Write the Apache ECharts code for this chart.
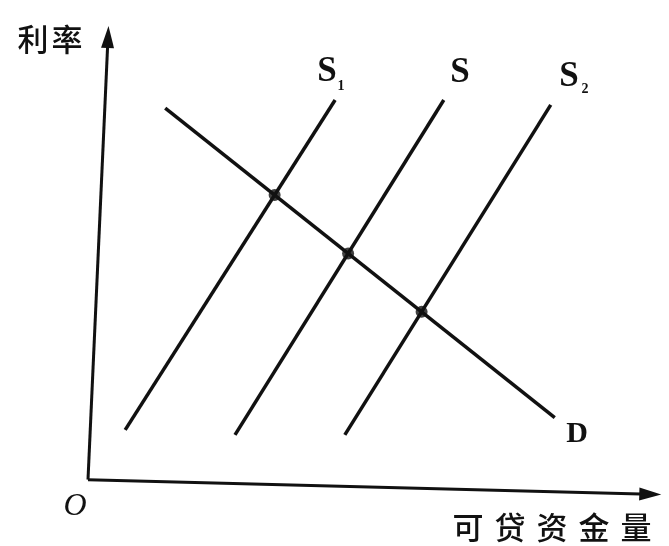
<!DOCTYPE html>
<html>
<head>
<meta charset="utf-8">
<script src="https://cdn.jsdelivr.net/npm/echarts@6/dist/echarts.min.js"></script>
<style>
html, body { margin: 0; padding: 0; background: #fff; }
#chart { width: 669px; height: 546px; }
</style>
</head>
<body>
<div id="chart"></div>
<script>
// 示意图, 单位任意 (原点 = 0,0)
const yAxisPts = [[0, 0], [3.5, 97.8]];
const xAxisPts = [[0, 0], [98.3, -3.2]];
const S1 = [[6.5, 11.0], [43.2, 83.9]];
const S = [[25.7, 9.9], [62.2, 83.9]];
const S2 = [[44.9, 9.9], [80.9, 82.8]];
const D = [[13.5, 82.1], [81.6, 13.7]];
const xName = ['可', '贷', '资', '金', '量'];

// 两条直线的交点
function cross(a, b) {
	const x1 = a[0][0], y1 = a[0][1], x2 = a[1][0], y2 = a[1][1];
	const x3 = b[0][0], y3 = b[0][1], x4 = b[1][0], y4 = b[1][1];
	const den = (x1 - x2) * (y3 - y4) - (y1 - y2) * (x3 - x4);
	const t = ((x1 - x3) * (y3 - y4) - (y1 - y3) * (x3 - x4)) / den;
	return [x1 + t * (x2 - x1), y1 + t * (y2 - y1)];
}
const dots = [cross(S1, D), cross(S, D), cross(S2, D)];

function seg(data, w) {
	return {
		type: 'line', data: data, symbol: 'none', silent: true,
		lineStyle: { color: '#111', width: w || 3.5 }
	};
}
function axisSeg(data, rot) {
	return {
		type: 'line', silent: true,
		data: [
			{ value: data[0], symbol: 'none' },
			{ value: data[1], symbol: 'triangle', symbolSize: [13, 22], symbolRotate: rot }
		],
		itemStyle: { color: '#111' },
		lineStyle: { color: '#111', width: 3 }
	};
}

const serif = '"Liberation Serif", "DejaVu Serif", serif';
const cjk = '"Noto Sans CJK SC", sans-serif';
function txt(s, x, y, font, align) {
	return {
		type: 'text', x: x, y: y, silent: true,
		style: { text: s, font: font, fill: '#111', align: align || 'center', verticalAlign: 'middle' }
	};
}

const labels = [
	txt('利', 33, 39, '500 31px ' + cjk),
	txt('率', 67, 39, '500 31px ' + cjk),
	txt('S', 327, 72, 'bold 35px ' + serif),
	txt('1', 341, 86, 'bold 14px ' + serif),
	txt('S', 460, 73, 'bold 35px ' + serif),
	txt('S', 569, 77, 'bold 35px ' + serif),
	txt('2', 585, 89, 'bold 14px ' + serif),
	txt('D', 577, 434, 'bold 30px ' + serif),
	txt('O', 75, 507, 'italic 32px ' + serif)
];
xName.forEach(function (c, i) {
	labels.push(txt(c, 468 + i * 42, 527, '500 31px ' + cjk));
});

const chart = echarts.init(document.getElementById('chart'));
chart.setOption({
	animation: false,
	grid: { left: 30.8, right: 9, top: 9, bottom: 12 },
	xAxis: { type: 'value', min: -10, max: 100, show: false },
	yAxis: { type: 'value', min: -12, max: 104, show: false },
	series: [
		axisSeg(yAxisPts, -2.5),
		axisSeg(xAxisPts, -91.5),
		seg(S1), seg(S), seg(S2), seg(D),
		{
			type: 'scatter', data: dots, symbolSize: 12, silent: true,
			itemStyle: { color: '#111' }
		}
	],
	graphic: labels
});
</script>
</body>
</html>
